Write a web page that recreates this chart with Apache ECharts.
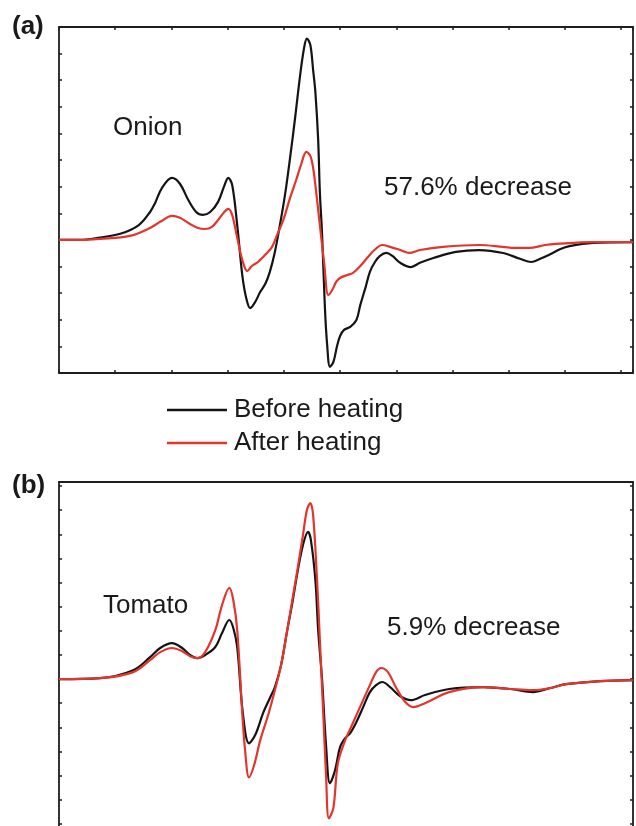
<!DOCTYPE html>
<html>
<head>
<meta charset="utf-8">
<script src="https://cdn.jsdelivr.net/npm/echarts@6/dist/echarts.min.js"></script>
<style>
  html, body { margin: 0; padding: 0; background: #ffffff; }
  #chart { width: 636px; height: 826px; }
</style>
</head>
<body>
<div id="chart"></div>
<script>
// EPR-style derivative spectra, arbitrary field units (x) and signal units (y).

// Panel (a): onion
const onionBefore = [
  [0, 0], [3.7, 0], [7.3, 0.09], [10.9, 0.23], [14.2, 0.56], [16.2, 1.05], [17.1, 1.39],
  [18.3, 1.95], [20.1, 2.33], [21.5, 2.11], [23.0, 1.5], [24.4, 1.05], [25.6, 0.94],
  [26.9, 1.05], [28.3, 1.43], [29.4, 2.03], [30.1, 2.33], [30.8, 2.07], [31.7, 0.56],
  [32.6, -1.32], [33.3, -2.18], [34.0, -2.56], [34.9, -2.33], [35.8, -1.95], [36.7, -1.65],
  [37.5, -1.2], [38.4, -0.45], [39.3, 0.56], [40.2, 1.69], [41.1, 3.08], [42.0, 4.59],
  [42.9, 6.2], [43.6, 7.22], [44.1, 7.56], [44.7, 7.33], [45.2, 6.39], [45.6, 5.56],
  [46.1, 3.76], [46.4, 1.8], [46.8, 0.19], [47.3, -2.56], [47.7, -3.95], [48.2, -4.77],
  [48.8, -4.59], [49.5, -3.95], [50.0, -3.61], [50.7, -3.38], [51.8, -3.27], [52.9, -3.01],
  [53.6, -2.44], [54.5, -1.8], [55.3, -1.2], [56.2, -0.83], [57.1, -0.6], [58.2, -0.49],
  [59.3, -0.6], [60.7, -0.86], [62.6, -1.02], [64.2, -0.86], [66.6, -0.68], [70.6, -0.45],
  [74.7, -0.38], [79.0, -0.49], [82.0, -0.71], [84.0, -0.83], [85.6, -0.71], [87.2, -0.56],
  [89.2, -0.34], [90.8, -0.23], [95.0, -0.11], [102.1, -0.08]
];
const onionAfter = [
  [0, 0], [3.7, 0], [7.3, 0.04], [12.6, 0.15], [16.2, 0.45], [18.0, 0.68], [20.1, 0.9],
  [21.5, 0.83], [23.3, 0.6], [24.7, 0.45], [26.0, 0.41], [27.2, 0.49], [28.3, 0.75],
  [29.4, 1.05], [30.1, 1.17], [30.8, 0.94], [31.7, 0.08], [32.6, -0.75], [33.5, -1.17],
  [34.3, -0.98], [35.4, -0.83], [37.0, -0.49], [37.9, -0.26], [38.8, 0.19], [39.9, 0.75],
  [41.1, 1.58], [42.2, 2.26], [43.1, 2.86], [44.0, 3.31], [44.7, 3.16], [45.2, 2.71],
  [45.7, 1.88], [46.4, 0.56], [47.2, -0.94], [47.9, -2.07], [48.6, -1.88], [49.3, -1.58],
  [50.0, -1.43], [51.3, -1.32], [52.3, -1.24], [53.6, -0.98], [54.8, -0.68], [56.1, -0.38],
  [57.5, -0.19], [58.9, -0.26], [60.7, -0.38], [62.3, -0.49], [64.2, -0.38], [68.3, -0.26],
  [74.7, -0.19], [79.0, -0.26], [81.1, -0.3], [83.6, -0.3], [86.5, -0.19], [88.4, -0.15],
  [95.0, -0.08], [102.1, -0.08]
];

// Panel (b): tomato
const tomatoBefore = [
  [0, 0], [7.3, 0.04], [13.2, 0.37], [16.2, 0.91], [18.0, 1.29], [20.1, 1.49], [21.9, 1.29],
  [23.3, 1.0], [24.6, 0.87], [26.0, 1.0], [27.8, 1.33], [29.0, 1.91], [30.3, 2.45],
  [31.0, 2.12], [31.7, 1.33], [32.7, -1.41], [33.8, -2.66], [34.9, -2.32], [36.3, -1.41],
  [37.5, -0.79], [38.4, -0.33], [39.5, 0.58], [40.6, 2.03], [41.5, 3.15], [42.4, 4.4],
  [43.4, 5.56], [44.3, 6.1], [44.8, 5.77], [45.6, 4.11], [46.1, 2.03], [46.8, -0.04],
  [47.5, -2.74], [48.2, -4.32], [49.1, -3.78], [50.0, -2.82], [50.9, -2.45], [51.8, -2.24],
  [52.9, -1.78], [54.1, -1.16], [55.3, -0.54], [56.4, -0.25], [57.5, -0.12], [58.9, -0.33],
  [60.7, -0.71], [62.6, -0.87], [65.1, -0.66], [69.4, -0.41], [75.4, -0.33], [80.3, -0.41],
  [84.3, -0.54], [87.4, -0.37], [90.2, -0.21], [96.3, -0.08], [102.1, -0.04]
];
const tomatoAfter = [
  [0, 0], [7.3, 0.04], [13.2, 0.29], [16.2, 0.79], [18.0, 1.12], [20.1, 1.29], [21.9, 1.16],
  [23.3, 0.95], [24.6, 0.87], [26.0, 1.12], [27.8, 2.03], [29.0, 3.07], [30.3, 3.78],
  [31.0, 3.28], [31.7, 2.03], [32.6, -1.41], [33.1, -2.95], [33.8, -4.07], [34.7, -3.57],
  [35.8, -2.53], [37.2, -1.49], [38.4, -0.46], [39.5, 0.58], [40.6, 2.03], [41.5, 3.28],
  [42.4, 4.52], [43.4, 5.98], [44.1, 7.01], [44.7, 7.3], [45.2, 6.8], [45.9, 4.11],
  [46.4, 1.62], [47.0, -1.41], [47.5, -3.98], [48.0, -5.77], [48.8, -5.35], [49.6, -3.49],
  [50.9, -2.53], [52.1, -1.91], [54.1, -0.87], [55.3, -0.25], [56.4, 0.29], [57.3, 0.46],
  [58.5, 0.29], [60.0, -0.37], [61.6, -0.95], [63.0, -1.16], [65.1, -1.0], [69.4, -0.54],
  [75.4, -0.33], [80.3, -0.41], [84.3, -0.46], [87.4, -0.37], [90.2, -0.21], [96.3, -0.08],
  [102.1, -0.04]
];

const seriesNames = ['Before heating', 'After heating'];
const panelLabels = ['(a)', '(b)'];
const sampleLabels = ['Onion', 'Tomato'];
const changeLabels = ['57.6% decrease', '5.9% decrease'];

const FONT = '"Liberation Sans", Arial, Helvetica, sans-serif';
const AXIS_COLOR = '#1e1e1e';
const BLACK = '#141414';
const RED = '#e2352b';

const chart = echarts.init(document.getElementById('chart'), null, { renderer: 'canvas' });

function xAxisDef(gridIndex, position, ticks) {
  return {
    type: 'value', gridIndex: gridIndex, position: position,
    min: 0, max: 102.1, interval: 10,
    axisLine: { show: true, onZero: false, lineStyle: { color: AXIS_COLOR, width: 1.8 } },
    axisTick: { show: ticks, inside: true, length: 3, lineStyle: { color: AXIS_COLOR, width: 1.5 } },
    axisLabel: { show: false }, splitLine: { show: false }
  };
}
function yAxisDef(gridIndex, position, min, max) {
  return {
    type: 'value', gridIndex: gridIndex, position: position,
    min: min, max: max, interval: 1,
    axisLine: { show: true, onZero: false, lineStyle: { color: AXIS_COLOR, width: 1.8 } },
    axisTick: { show: true, inside: true, length: 3, lineStyle: { color: AXIS_COLOR, width: 1.5 } },
    axisLabel: { show: false }, splitLine: { show: false }
  };
}
function lineSeries(name, data, color, axisIdx) {
  return {
    type: 'line', name: name, data: data,
    xAxisIndex: axisIdx, yAxisIndex: axisIdx,
    smooth: 0.35, symbol: 'none',
    lineStyle: { color: color, width: 2.2 },
    itemStyle: { color: color },
    emphasis: { disabled: true }
  };
}
function label(text, x, y, size, weight) {
  return {
    type: 'text', x: x, y: y, silent: true,
    style: {
      text: text, fill: '#1a1a1a', font: weight + ' ' + size + 'px ' + FONT,
      verticalAlign: 'middle', align: 'left'
    }
  };
}

chart.setOption({
  animation: false,
  backgroundColor: '#ffffff',
  grid: [
    { left: 59, top: 27, width: 574, height: 346, outerBoundsMode: 'none', containLabel: false },
    { left: 59, top: 482, width: 574, height: 366, outerBoundsMode: 'none', containLabel: false }
  ],
  xAxis: [
    xAxisDef(0, 'bottom', true), xAxisDef(0, 'top', true),
    xAxisDef(1, 'bottom', false), xAxisDef(1, 'top', false)
  ],
  yAxis: [
    yAxisDef(0, 'left', -5, 8), yAxisDef(0, 'right', -5, 8),
    yAxisDef(1, 'left', -7, 8.17), yAxisDef(1, 'right', -7, 8.17)
  ],
  legend: {
    data: seriesNames,
    orient: 'vertical', left: 167, top: 397, padding: 0,
    icon: 'rect', itemWidth: 60, itemHeight: 2.4, itemGap: 7,
    textStyle: { fontSize: 26, lineHeight: 25, fontFamily: FONT, color: '#1a1a1a', padding: [0, 0, 0, 2] },
    selectedMode: false
  },
  series: [
    lineSeries(seriesNames[0], onionBefore, BLACK, 0),
    lineSeries(seriesNames[1], onionAfter, RED, 0),
    lineSeries(seriesNames[0], tomatoBefore, BLACK, 2),
    lineSeries(seriesNames[1], tomatoAfter, RED, 2)
  ],
  graphic: [
    label(panelLabels[0], 12, 27, 26, 'bold'),
    label(panelLabels[1], 12, 486, 26, 'bold'),
    label(sampleLabels[0], 113, 128, 26, 'normal'),
    label(changeLabels[0], 384, 188, 26, 'normal'),
    label(sampleLabels[1], 103, 606, 26, 'normal'),
    label(changeLabels[1], 387, 628, 26, 'normal')
  ]
});
</script>
</body>
</html>
